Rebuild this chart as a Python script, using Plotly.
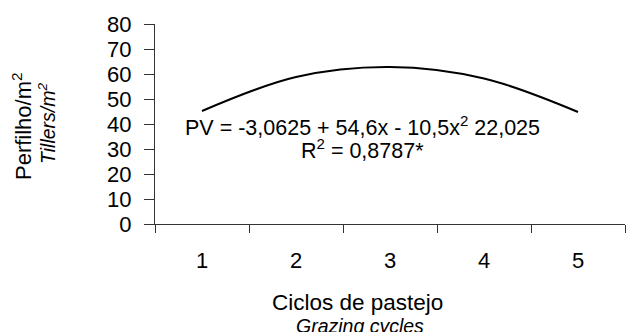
import plotly.graph_objects as go

categories = ["1", "2", "3", "4", "5"]
tillers = [45.2, 58.8, 62.8, 58.2, 44.8]
y_ticks = [0, 10, 20, 30, 40, 50, 60, 70, 80]

FONT = "Liberation Sans, Arial, sans-serif"

fig = go.Figure()
fig.add_trace(go.Scatter(
    x=categories, y=tillers, mode="lines",
    line=dict(color="black", width=2, shape="spline", smoothing=1.0),
    showlegend=False, hoverinfo="skip",
))

fig.update_layout(
    width=626, height=332,
    margin=dict(l=155, r=1, t=24, b=108),
    paper_bgcolor="white", plot_bgcolor="white",
    font=dict(family=FONT, color="black"),
    xaxis=dict(
        type="category", tickson="boundaries", ticks="outside", ticklen=8,
        range=[-0.5, 4.5],
        tickcolor="#333", tickwidth=1, showline=True, linecolor="#333", linewidth=1,
        showgrid=False, zeroline=False, tickfont=dict(size=22, family=FONT),
        ticklabelstandoff=17,
    ),
    yaxis=dict(
        range=[0, 80], tickvals=y_ticks, ticks="outside", ticklen=10,
        tickcolor="#333", tickwidth=1, showline=True, linecolor="#333", linewidth=1,
        showgrid=False, zeroline=False, tickfont=dict(size=22, family=FONT),
        ticklabelstandoff=8,
    ),
    annotations=[
        dict(text="PV = -3,0625 + 54,6x - 10,5x<sup>2</sup> 22,025", x=362, y=126,
             showarrow=False, font=dict(size=21.5, family=FONT)),
        dict(text="R<sup>2</sup> = 0,8787*", x=362, y=149,
             showarrow=False, font=dict(size=21.5, family=FONT)),
        dict(text="Ciclos de pastejo", x=357, y=302, showarrow=False,
             font=dict(size=22.5, family=FONT)),
        dict(text="<i>Grazing cycles</i>", x=360, y=326, showarrow=False,
             font=dict(size=19.5, family=FONT)),
        dict(text="Perfilho/m<sup>2</sup>", x=22, y=126, textangle=-90, showarrow=False,
             font=dict(size=22, family=FONT)),
        dict(text="<i>Tillers/m<sup>2</sup></i>", x=47, y=123, textangle=-90, showarrow=False,
             font=dict(size=19.5, family=FONT)),
    ],
)

# convert pixel positions for annotations to paper coordinates
W, H = 626, 332
l, r, t, b = 155, 1, 24, 108
pw, ph = W - l - r, H - t - b
new_ann = []
for a in fig.layout.annotations:
    px, py = a.x, a.y
    a.update(xref="paper", yref="paper",
             x=(px - l) / pw, y=1 - (py - t) / ph,
             xanchor="center", yanchor="middle")
    new_ann.append(a)
fig.layout.annotations = new_ann

fig.write_html("out.html")
